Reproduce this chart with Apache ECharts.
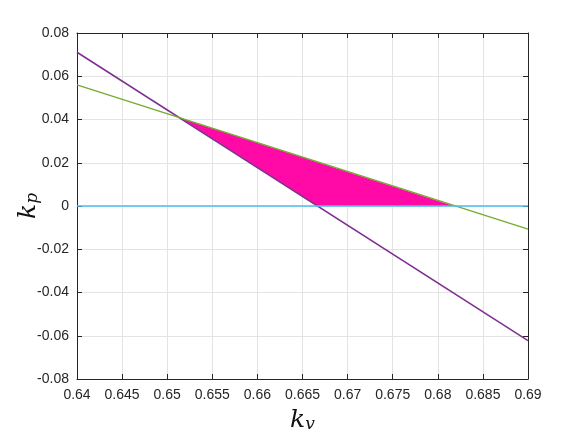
<!DOCTYPE html>
<html>
<head>
<meta charset="utf-8">
<script src="https://cdn.jsdelivr.net/npm/echarts@6/dist/echarts.min.js"></script>
<style>
  html, body { margin: 0; padding: 0; background: #fff; }
  #chart { width: 584px; height: 438px; }
</style>
</head>
<body>
<div id="chart"></div>
<script>
// line end points
const kvEnds = [0.64, 0.69];
const purpleKp = [0.0711, -0.0622];
const greenKp = [0.0560, -0.0107];
const zeroKp = [0, 0];
// feasible region (triangle)
const regionKv = [0.6516, 0.6818, 0.6667];
const regionKp = [0.0405, 0, 0];

const chart = echarts.init(document.getElementById('chart'));

const toPairs = (xs, ys) => xs.map((x, i) => [x, ys[i]]);
const axisColor = '#262626';
const gridColor = '#e3e3e3';
const labelFont = { color: axisColor, fontSize: 14, fontFamily: 'Liberation Sans' };
const nameRich = {
  k: { fontFamily: 'DejaVu Serif', fontStyle: 'italic', fontSize: 25, color: '#111' },
  s: { fontFamily: 'DejaVu Serif', fontStyle: 'italic', fontSize: 17, color: '#111', padding: [9, 0, 0, 0] }
};

const option = {
  animation: false,
  grid: { left: 77, right: 56, top: 33, bottom: 59, outerBoundsMode: 'none', containLabel: false },
  xAxis: [
    {
      type: 'value', min: 0.64, max: 0.69, interval: 0.005,
      name: '{k|k}{s|v}', nameLocation: 'middle', nameGap: 28, nameMoveOverlap: false,
      nameTextStyle: { rich: nameRich },
      axisLine: { show: true, onZero: false, lineStyle: { color: axisColor, width: 1 } },
      axisTick: { show: true, inside: true, length: 5, lineStyle: { color: axisColor } },
      axisLabel: Object.assign({ margin: 9, formatter: v => String(+v.toFixed(3)) }, labelFont),
      splitLine: { show: true, lineStyle: { color: gridColor } }
    },
    {
      type: 'value', position: 'top', min: 0.64, max: 0.69, interval: 0.005,
      axisLine: { show: true, onZero: false, lineStyle: { color: axisColor, width: 1 } },
      axisTick: { show: true, inside: true, length: 5, lineStyle: { color: axisColor } },
      axisLabel: { show: false },
      splitLine: { show: false }
    }
  ],
  yAxis: [
    {
      type: 'value', min: -0.08, max: 0.08, interval: 0.02,
      name: '{k|k}{s|p}', nameLocation: 'middle', nameGap: 36, nameRotate: 90, nameMoveOverlap: false,
      nameTextStyle: { rich: nameRich },
      axisLine: { show: true, onZero: false, lineStyle: { color: axisColor, width: 1 } },
      axisTick: { show: true, inside: true, length: 5, lineStyle: { color: axisColor } },
      axisLabel: Object.assign({ margin: 8, formatter: v => String(+v.toFixed(2)) }, labelFont),
      splitLine: { show: true, lineStyle: { color: gridColor } }
    },
    {
      type: 'value', position: 'right', min: -0.08, max: 0.08, interval: 0.02,
      axisLine: { show: true, onZero: false, lineStyle: { color: axisColor, width: 1 } },
      axisTick: { show: true, inside: true, length: 5, lineStyle: { color: axisColor } },
      axisLabel: { show: false },
      splitLine: { show: false }
    }
  ],
  series: [
    {
      type: 'custom',
      data: toPairs(regionKv, regionKp),
      z: 1,
      renderItem: (params, api) => {
        if (params.dataIndex !== 0) return null;
        const pts = toPairs(regionKv, regionKp).map(p => api.coord(p));
        return { type: 'polygon', shape: { points: pts }, style: { fill: '#ff0aa6', stroke: null } };
      }
    },
    {
      type: 'line', data: toPairs(kvEnds, purpleKp), symbol: 'none', z: 3,
      lineStyle: { color: '#7e2f8e', width: 1.5 }
    },
    {
      type: 'line', data: toPairs(kvEnds, greenKp), symbol: 'none', z: 3,
      lineStyle: { color: '#77ac30', width: 1.5 }
    },
    {
      type: 'line', data: toPairs(kvEnds, zeroKp), symbol: 'none', z: 4,
      lineStyle: { color: '#4dbeee', width: 1.5 }
    }
  ]
};

chart.setOption(option);
</script>
</body>
</html>
